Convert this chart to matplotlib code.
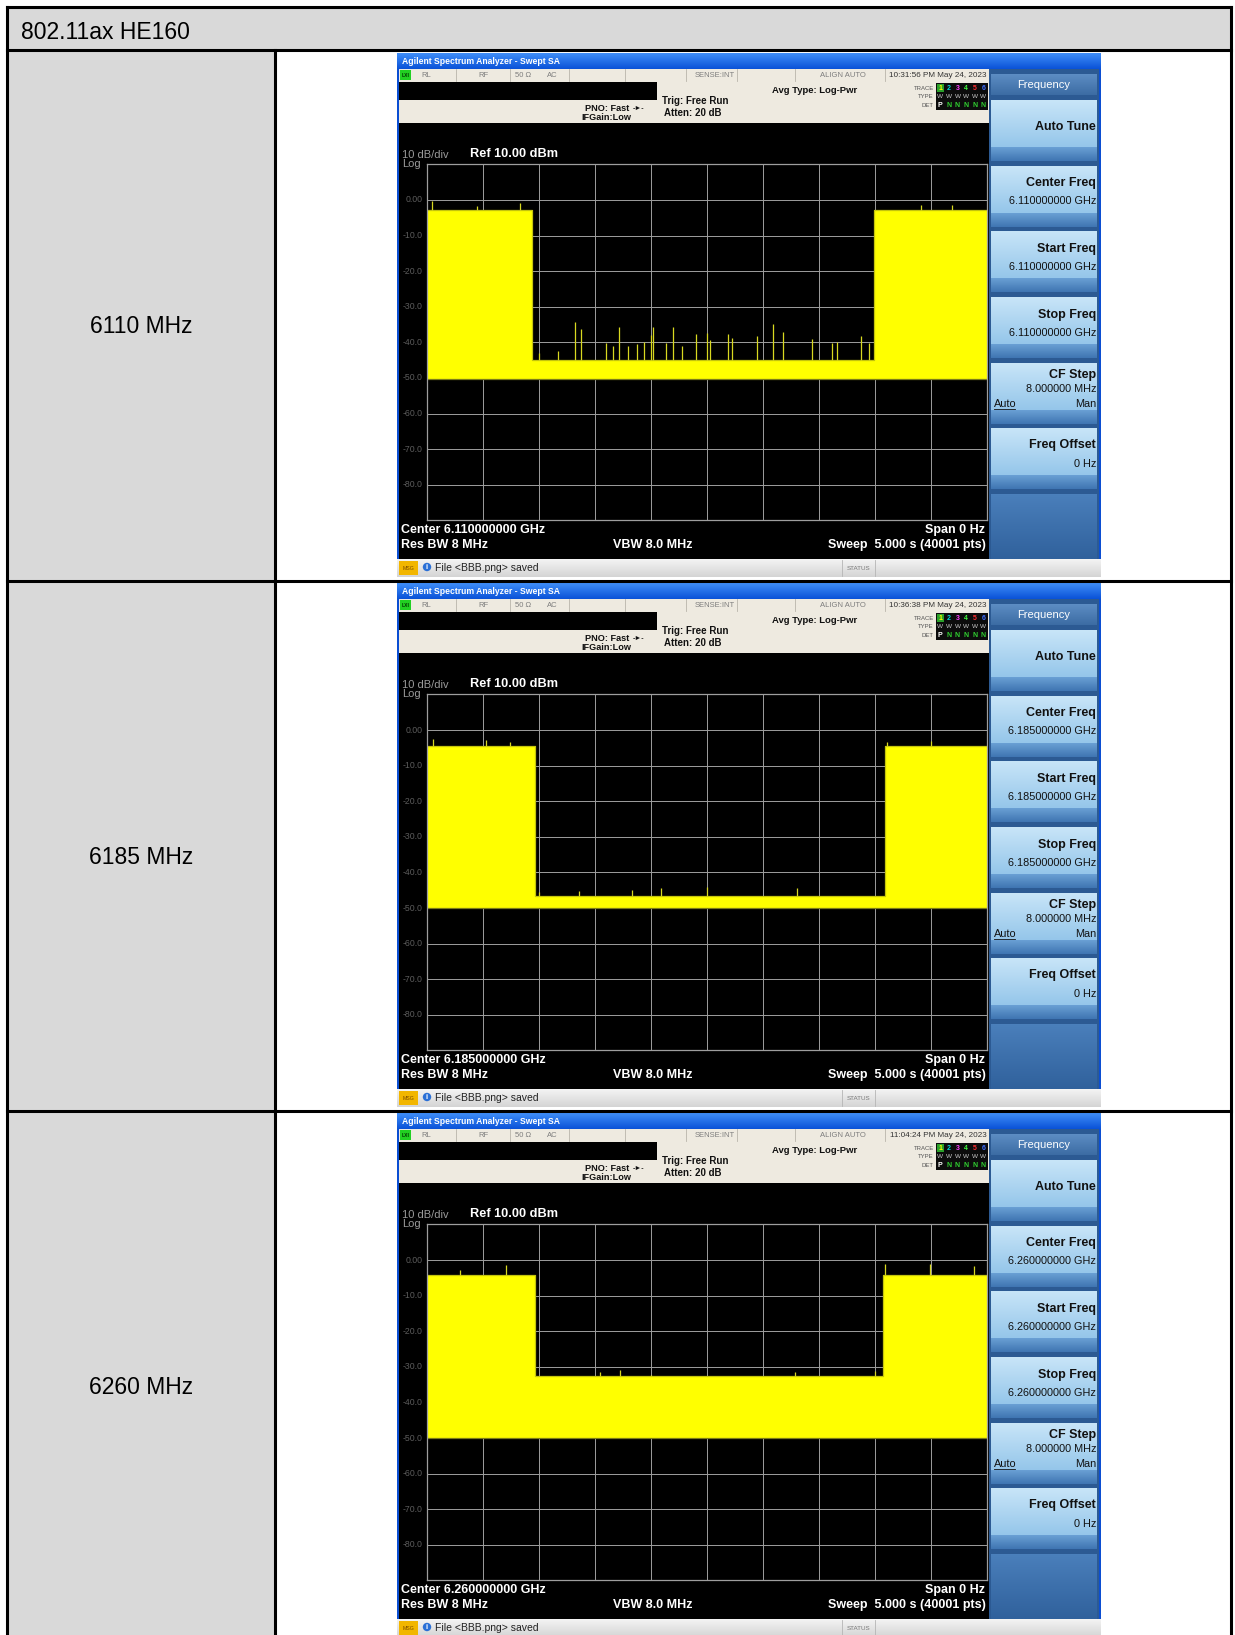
import numpy as np
import matplotlib.pyplot as plt
from matplotlib.patches import Rectangle, Circle
from matplotlib.colors import to_rgb

plt.rcParams['font.family'] = ['Liberation Sans', 'DejaVu Sans']

# ---- values ----
title = '802.11ax HE160'
channels = ['6110 MHz', '6185 MHz', '6260 MHz']
center_ghz = ['6.110000000', '6.185000000', '6.260000000']
stamps = ['10:31:56 PM May 24, 2023', '10:36:38 PM May 24, 2023', '11:04:24 PM May 24, 2023']

sweep_s = 5.0
ref_dbm = 10.0
db_per_div = 10.0
grid_labels = ['0.00', '-10.0', '-20.0', '-30.0', '-40.0', '-50.0', '-60.0', '-70.0', '-80.0']

burst_end_s = [0.94, 0.97, 0.965]      # first burst switches off
burst_back_s = [3.99, 4.09, 4.07]      # burst comes back on
on_top_dbm = [-2.9, -4.6, -4.3]
off_top_dbm = [-45.0, -46.6, -32.7]
floor_dbm = [-50.3, -50.0, -50.1]

on_spike_s = [[0.05, 0.45, 0.83, 4.41, 4.69],
              [0.06, 0.53, 0.74, 4.11, 4.50],
              [0.30, 0.71, 4.09, 4.49, 4.89]]
on_spike_db = [[-0.3, -1.8, -0.8, -1.4, -1.3],
               [-2.6, -2.8, -3.3, -3.5, -3.1],
               [-2.9, -1.4, -1.0, -1.2, -1.7]]
off_spike_s = [[1.00, 1.175, 1.32, 1.38, 1.60, 1.66, 1.72, 1.80, 1.875, 1.94, 2.00, 2.02, 2.14,
                2.20, 2.28, 2.40, 2.50, 2.53, 2.69, 2.73, 2.95, 3.09, 3.18, 3.44, 3.62, 3.66,
                3.88, 3.95],
               [1.00, 1.36, 1.83, 2.09, 2.50, 3.31],
               [1.55, 1.73, 2.00, 3.29, 4.00]]
off_spike_db = [[-43.0, -42.5, -34.2, -36.1, -40.3, -40.9, -35.8, -41.0, -40.5, -40.0, -37.9,
                 -35.6, -40.2, -35.8, -41.1, -37.6, -37.4, -39.3, -37.7, -38.8, -38.1, -34.9,
                 -37.2, -39.1, -40.1, -40.0, -38.1, -40.3],
                [-45.4, -45.2, -44.9, -44.5, -44.2, -44.5],
                [-31.4, -30.8, -32.2, -31.4, -31.2]]

softkeys = ['Auto Tune', 'Center Freq', 'Start Freq', 'Stop Freq', 'CF Step', 'Freq Offset']

# ---- page layout (pixels) ----
W, H = 1235, 1635
LEFT, RIGHT, TOP, HEAD_B, COL = 7, 1231, 7, 50, 275
ROW_LINES = [581, 1111]
LABEL_BASE = [333, 864, 1394]
SHOT_X, SHOT_Y = 397, [53, 583, 1113]
SHOT_W, SHOT_H = 704, 524
GX0, GX1, GY0, GY1 = 29.7, 589.7, 111.4, 467.4

fig = plt.figure(figsize=(W / 100, H / 100), dpi=100)
page = fig.add_axes([0, 0, 1, 1])
page.axis('off')


def rect(x, y, w, h, fc, z=1):
    page.add_patch(Rectangle((x, y), w, h, facecolor=fc, edgecolor='none', zorder=z))


def grad(x, y, w, h, top, bottom, z=1):
    t = np.linspace(0, 1, 48)[:, None, None]
    img = np.array(to_rgb(top)) * (1 - t) + np.array(to_rgb(bottom)) * t
    page.imshow(img, extent=(x, x + w, y + h, y), aspect='auto',
                interpolation='bilinear', zorder=z)


def text(x, y, s, size=6, color='black', weight='normal', ha='left', va='center', z=5, **kw):
    page.text(x, y, s, fontsize=size, color=color, fontweight=weight,
              ha=ha, va=va, zorder=z, **kw)


# table
rect(LEFT, TOP, RIGHT - LEFT, HEAD_B - TOP, '#d9d9d9')
rect(LEFT, HEAD_B, COL - LEFT, H - HEAD_B, '#d9d9d9')
lw = 2.2
for yy in [TOP, HEAD_B] + ROW_LINES:
    page.plot([LEFT, RIGHT], [yy, yy], color='black', lw=lw, solid_capstyle='projecting', zorder=8)
page.plot([LEFT, LEFT], [TOP, H + 5], color='black', lw=lw, zorder=8)
page.plot([RIGHT, RIGHT], [TOP, H + 5], color='black', lw=lw, zorder=8)
page.plot([COL, COL], [HEAD_B, H + 5], color='black', lw=lw, zorder=8)
text(21, 39, title, size=16.5, va='baseline')
for lab, yb in zip(channels, LABEL_BASE):
    text((LEFT + COL) / 2, yb, lab, size=16.5, ha='center', va='baseline')


def shot(i):
    ox, oy = SHOT_X, SHOT_Y[i]

    def R(x, y, w, h, fc, z=2):
        rect(ox + x, oy + y, w, h, fc, z)

    def G(x, y, w, h, c1, c2, z=2):
        grad(ox + x, oy + y, w, h, c1, c2, z)

    def T(x, y, s, **kw):
        text(ox + x, oy + y, s, **kw)

    def V(x, y0, y1, c):
        page.plot([ox + x, ox + x], [oy + y0, oy + y1], color=c, lw=0.6, zorder=3)

    # window frame and title bar
    R(0, 0, SHOT_W, SHOT_H, '#0b4ed2', z=1.5)
    G(0, 0, SHOT_W, 16, '#3f8ef8', '#0a52d8')
    T(5, 8.5, 'Agilent Spectrum Analyzer - Swept SA', size=6.2, color='white', weight='bold')

    # status row
    R(2, 16, 590, 12, '#eeeae0')
    R(3, 17, 11, 10, '#22d022', z=3)
    T(8.5, 22, 'LXI', size=3.6, ha='center', color='#003300', weight='bold')
    for xs in [59, 113, 172, 228, 289, 340, 398, 488]:
        V(xs, 16, 28, '#b9b5ab')
    gray = '#7d7d7d'
    T(24, 22, 'RL', size=5.5, color=gray)
    T(86, 22, 'RF', size=5.5, color=gray, ha='center')
    T(118, 22, '50 Ω', size=5.5, color=gray)
    T(150, 22, 'AC', size=5.5, color=gray)
    T(318, 22, 'SENSE:INT', size=5.5, color=gray, ha='center')
    T(446, 22, 'ALIGN AUTO', size=5.5, color=gray, ha='center')
    T(541, 22, stamps[i], size=5.9, color='#333333', ha='center')

    # settings row
    R(2, 28, 590, 42, '#eeeae0')
    R(2, 29, 258, 18, 'black', z=3)
    bold = dict(weight='bold', color='#111111')
    T(188, 55, 'PNO: Fast', size=6.6, **bold)
    T(236, 55, '-►-', size=5, **bold)
    T(184, 64.5, 'IFGain:Low', size=6.6, **bold)
    T(265, 48, 'Trig: Free Run', size=7, **bold)
    T(267, 59.5, 'Atten: 20 dB', size=7, **bold)
    T(375, 37.5, 'Avg Type: Log-Pwr', size=6.8, **bold)
    T(537, 35, 'TRACE', size=4.3, color='#555555', ha='right')
    T(537, 43.5, 'TYPE', size=4.3, color='#555555', ha='right')
    T(537, 52, 'DET', size=4.3, color='#555555', ha='right')
    R(539, 30, 52, 27, '#0c0c0c', z=3)
    R(539.5, 30.5, 7.5, 8.5, '#2aa02a', z=3.5)
    trace_cols = ['#ffff00', '#00e0e0', '#ff40ff', '#40ff40', '#ff3030', '#4070ff']
    for j, c in enumerate(trace_cols):
        xj = 543.3 + 8.6 * j
        T(xj, 35, str(j + 1), size=5, color=c, ha='center', weight='bold')
        T(xj, 43.5, 'W', size=4.6, color='#c8c8c8', ha='center')
        T(xj, 52, 'P' if j == 0 else 'N', size=5, color='white' if j == 0 else '#30d030',
          ha='center', weight='bold')

    # display area
    R(2, 70, 590, 436, 'black')
    T(5, 102, '10 dB/div', size=8, color='#9a9a9a')
    T(5, 110.5, 'Log', size=8, color='#9a9a9a')
    T(73, 101, 'Ref 10.00 dBm', size=9.2, color='white', weight='bold')
    white = dict(size=9, color='white', weight='bold')
    T(4, 476.5, 'Center ' + center_ghz[i] + ' GHz', **white)
    T(4, 491.5, 'Res BW 8 MHz', **white)
    T(216, 491.5, 'VBW 8.0 MHz', **white)
    T(588, 476.5, 'Span 0 Hz', ha='right', **white)
    T(589, 491.5, 'Sweep  5.000 s (40001 pts)', ha='right', **white)

    # softkey panel
    R(592, 16, 110, 490, '#2c5a93')
    G(594, 21, 106, 21, '#5d8dc3', '#3c6ca4')
    T(647, 31.5, 'Frequency', size=8, color='white', ha='center')
    key_bold = dict(size=9, weight='bold', color='#111111', ha='right')
    key_val = dict(size=7.8, color='#111111', ha='right')
    for k, name in enumerate(softkeys):
        y0 = 47 + 65.7 * k
        G(594, y0, 106, 47, '#c8e5f8', '#95c6ea')
        G(594, y0 + 47, 106, 14, '#6aa0d4', '#3f75b2')
        if name == 'Auto Tune':
            T(699, y0 + 27, name, **key_bold)
        elif name == 'CF Step':
            T(699, y0 + 12.5, name, **key_bold)
            T(699, y0 + 26.2, '8.000000 MHz', **key_val)
            T(597, y0 + 40.7, 'Auto', size=7.8, color='#111111')
            page.plot([ox + 597, ox + 618], [oy + y0 + 46, oy + y0 + 46], color='#111111', lw=0.6, zorder=5)
            T(699, y0 + 40.7, 'Man', **key_val)
        elif name == 'Freq Offset':
            T(699, y0 + 16.5, name, **key_bold)
            T(699, y0 + 35.5, '0 Hz', **key_val)
        else:
            T(699, y0 + 17.7, name, **key_bold)
            T(699, y0 + 35.4, center_ghz[i] + ' GHz', **key_val)
    G(594, 441, 106, 65, '#4a7fbb', '#30619c')

    # message bar
    G(0, 506, SHOT_W, 18, '#f4f4f4', '#d4d4d4')
    R(2, 508, 19, 14, '#f2b600', z=3)
    T(11.5, 515, 'MSG', size=3.8, ha='center', color='#7a4a00')
    page.add_patch(Circle((ox + 30, oy + 514), 4.2, facecolor='#2a6fd6', edgecolor='none', zorder=4))
    T(30, 514.5, 'i', size=5.5, ha='center', color='white', weight='bold')
    T(38, 515, 'File <BBB.png> saved', size=7.5, color='#222222')
    V(445, 507, 523, '#b5b5b5')
    V(478, 507, 523, '#b5b5b5')
    T(461.5, 515, 'STATUS', size=4.5, ha='center', color='#777777')

    # graticule with the trace
    ax = fig.add_axes([(ox + GX0) / W, 1 - (oy + GY1) / H, (GX1 - GX0) / W, (GY1 - GY0) / H])
    ax.set_facecolor('black')
    ax.set_xlim(0, sweep_s)
    ax.set_ylim(ref_dbm - 10 * db_per_div, ref_dbm)
    ax.set_xticks(np.linspace(0, sweep_s, 11))
    ax.set_yticks(np.linspace(ref_dbm - 10 * db_per_div, ref_dbm, 11))
    ax.tick_params(length=0, labelbottom=False, labelleft=False)
    ax.set_axisbelow(True)
    ax.grid(True, color='#9e9e9e', lw=0.7)
    for sp in ax.spines.values():
        sp.set_color('#9e9e9e')
        sp.set_linewidth(0.9)

    seg_t = [0, burst_end_s[i], burst_back_s[i], sweep_s]
    seg_top = [on_top_dbm[i], off_top_dbm[i], on_top_dbm[i], on_top_dbm[i]]
    ax.fill_between(seg_t, floor_dbm[i], seg_top, step='post', color='#ffff00', lw=0, zorder=2)
    ax.step(seg_t, seg_top, where='post', color='#c4c40c', lw=0.9, zorder=2.5)
    ax.axhline(floor_dbm[i], color='#7c7c18', lw=0.9, zorder=2.5)
    ax.vlines(on_spike_s[i], on_top_dbm[i], on_spike_db[i], color='#d8d820', lw=0.9, zorder=3)
    ax.vlines(off_spike_s[i], off_top_dbm[i], off_spike_db[i], color='#d8d820', lw=0.9, zorder=3)
    for k, lab in enumerate(grid_labels):
        ax.text(-0.035, ref_dbm - (k + 1) * db_per_div, lab, ha='right', va='center',
                fontsize=6.3, color='#5c5c5c', clip_on=False)


for i in range(len(channels)):
    shot(i)

page.set_xlim(0, W)
page.set_ylim(H, 0)
fig.savefig('out.png', dpi=100)
